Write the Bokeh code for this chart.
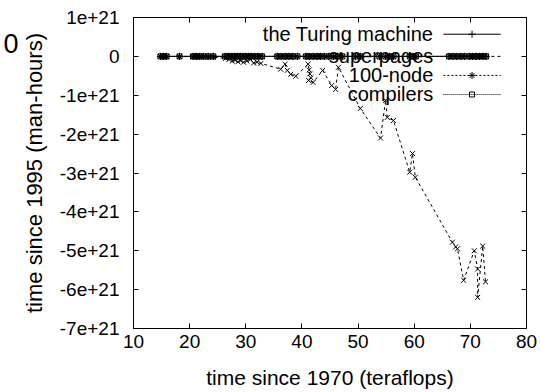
from bokeh.plotting import figure
from bokeh.models import Range1d, FixedTicker, LinearAxis, CustomJSTickFormatter
from bokeh.embed import file_html
from bokeh.resources import INLINE

# ---------------- data (y values in units of 1e21) ----------------
superpages_x = [14.8, 15.3, 15.9, 18.2, 20.6, 21.3, 22.0, 22.6, 23.3, 24.2,
                26.4, 27.0, 27.6, 28.1, 28.6, 29.1, 29.6, 30.2, 30.8, 31.4,
                32.0, 32.7, 36.2, 37.0, 37.4, 38.0, 38.9,
                41.1, 41.3, 41.4, 41.6, 41.2, 42.0, 43.7, 45.3, 46.0, 46.5,
                50.4, 54.0, 54.9, 55.2, 56.3, 59.2, 59.7, 60.2, 66.8, 67.4,
                67.7, 68.8, 70.7, 71.3, 71.3, 72.2, 72.7]
superpages_y = [-0.002, -0.003, -0.004, -0.005, -0.01, -0.01, -0.012, -0.015, -0.02, -0.02,
                -0.05, -0.08, -0.12, -0.10, -0.14, -0.11, -0.15, -0.12, -0.08, -0.17,
                -0.15, -0.18, -0.33, -0.20, -0.36, -0.46, -0.51,
                -0.20, -0.35, -0.45, -0.55, -0.62, -0.67, -0.36, -0.75, -0.85, -0.28,
                -1.34, -2.10, -1.13, -1.57, -1.65, -2.98, -2.50, -3.11, -4.78, -4.90,
                -4.95, -5.76, -5.00, -5.47, -6.20, -4.88, -5.80]

small_x = [14.8, 15.3, 15.9, 18.2, 20.6, 21.2, 21.8, 22.5, 23.3, 24.2,
           26.3, 26.9, 27.5, 28.0, 28.5, 29.0, 29.5, 30.0, 30.5, 31.0,
           31.6, 32.2, 32.9, 35.6, 36.3, 37.0, 37.7, 38.4, 39.2, 40.7,
           41.3, 42.0, 42.7, 43.3, 44.0, 44.8, 45.6, 46.4, 47.2, 49.5,
           50.4, 53.8, 54.9, 55.6, 56.3, 59.2, 59.8, 60.3, 66.2, 66.9,
           67.6, 68.3, 69.0, 69.8, 70.4, 71.0, 71.6, 72.2, 72.8]
turing_y = [0.001, 0.001, 0.0, 0.001, 0.0, 0.001, 0.0, 0.001, 0.0, 0.001,
            0.0, 0.001, 0.0, 0.001, 0.0, 0.001, 0.0, 0.001, 0.0, 0.001,
            0.0, 0.001, 0.0, 0.001, 0.0, 0.001, 0.0, 0.001, 0.0, 0.001,
            0.0, 0.001, 0.0, 0.001, 0.0, 0.001, 0.0, 0.001, 0.0, 0.001,
            0.0, 0.001, 0.0, 0.001, 0.0, 0.001, 0.0, 0.001, 0.0, 0.001,
            0.0, 0.001, 0.0, 0.001, 0.0, 0.001, 0.0, 0.001, 0.0]
node100_y = [-0.001, 0.0, -0.001, 0.0, -0.001, 0.0, -0.001, 0.0, -0.001, 0.0,
             -0.001, 0.0, -0.001, 0.0, -0.001, 0.0, -0.001, 0.0, -0.001, 0.0,
             -0.001, 0.0, -0.001, 0.0, -0.001, 0.0, -0.001, 0.0, -0.001, 0.0,
             -0.001, 0.0, -0.001, 0.0, -0.001, 0.0, -0.001, 0.0, -0.001, 0.0,
             -0.001, 0.0, -0.001, 0.0, -0.001, 0.0, -0.001, 0.0, -0.001, 0.0,
             -0.001, 0.0, -0.001, 0.0, -0.001, 0.0, -0.001, 0.0, -0.001]
compilers_y = [0.0, 0.0, 0.0, 0.0, 0.0, 0.0, 0.0, 0.0, 0.0, 0.0,
               0.0, 0.0, 0.0, 0.0, 0.0, 0.0, 0.0, 0.0, 0.0, 0.0,
               0.0, 0.0, 0.0, 0.0, 0.0, 0.0, 0.0, 0.0, 0.0, 0.0,
               0.0, 0.0, 0.0, 0.0, 0.0, 0.0, 0.0, 0.0, 0.0, 0.0,
               0.0, 0.0, 0.0, 0.0, 0.0, 0.0, 0.0, 0.0, 0.0, 0.0,
               0.0, 0.0, 0.0, 0.0, 0.0, 0.0, 0.0, 0.0, 0.0]

series_names = ["the Turing machine", "superpages", "100-node", "compilers"]
x_ticks = [10, 20, 30, 40, 50, 60, 70, 80]
y_ticks = [1, 0, -1, -2, -3, -4, -5, -6, -7]
x_label = "time since 1970 (teraflops)"
y_label = "time since 1995 (man-hours)"
stray_text = "0"
stray_pos = 0.334  # vertical position of the stray "0" (in y units)

FONT = "Liberation Sans"

p = figure(width=541, height=392, output_backend="svg", toolbar_location=None,
           x_range=Range1d(10, 80), y_range=Range1d(-7, 1),
           min_border_left=133, min_border_right=15, min_border_top=17,
           min_border_bottom=64, background_fill_color="white",
           border_fill_color="white")
p.xgrid.visible = False
p.ygrid.visible = False
p.outline_line_color = "black"
p.outline_line_width = 1

yfmt = CustomJSTickFormatter(code="return tick == 0 ? '0' : tick.toFixed(0) + 'e+21';")
blank = CustomJSTickFormatter(code="return '';")

for ax in p.xaxis:
    ax.ticker = FixedTicker(ticks=x_ticks)
    ax.axis_label = x_label
    ax.axis_label_text_font_size = "21px"
    ax.axis_label_standoff = 15
for ax in p.yaxis:
    ax.ticker = FixedTicker(ticks=y_ticks)
    ax.formatter = yfmt
    ax.axis_label = y_label
    ax.axis_label_text_font_size = "22px"
    ax.axis_label_standoff = 10

for ax in list(p.xaxis) + list(p.yaxis):
    ax.major_tick_in = 5
    ax.major_tick_out = 0
    ax.minor_tick_in = 0
    ax.minor_tick_out = 0
    ax.axis_line_color = "black"
    ax.major_tick_line_color = "black"
    ax.major_label_text_font = FONT
    ax.major_label_text_font_size = "19px"
    ax.major_label_text_color = "black"
    ax.axis_label_text_font = FONT
    ax.axis_label_text_font_style = "normal"
    ax.axis_label_text_color = "black"

p.xaxis.major_label_standoff = 6
p.yaxis.major_label_standoff = 14

top = LinearAxis(ticker=FixedTicker(ticks=x_ticks), formatter=blank)
right = LinearAxis(ticker=FixedTicker(ticks=y_ticks), formatter=blank)
for ax in (top, right):
    ax.major_tick_in = 5
    ax.major_tick_out = 0
    ax.minor_tick_in = 0
    ax.minor_tick_out = 0
    ax.axis_line_color = None
    ax.major_label_standoff = 0
    ax.major_label_text_font_size = "1px"
p.add_layout(top, "above")
p.add_layout(right, "right")

# stray "0" at the far left, drawn as an outer left axis with a single label
stray_fmt = CustomJSTickFormatter(args=dict(t=stray_text), code="return t;")
stray_axis = LinearAxis(ticker=FixedTicker(ticks=[stray_pos]), formatter=stray_fmt)
stray_axis.major_tick_in = 0
stray_axis.major_tick_out = 0
stray_axis.minor_tick_in = 0
stray_axis.minor_tick_out = 0
stray_axis.axis_line_color = None
stray_axis.major_label_standoff = 0
stray_axis.major_label_text_font = FONT
stray_axis.major_label_text_font_size = "27px"
stray_axis.major_label_text_color = "black"
p.add_layout(stray_axis, "left")

# ---------------- series ----------------
p.line(small_x, compilers_y, line_color="black", line_width=1, line_dash="1 1")
p.scatter(small_x, compilers_y, marker="square", size=5, fill_color=None,
          line_color="black", line_width=1)
p.line(small_x, node100_y, line_color="black", line_width=1, line_dash="2 2")
p.scatter(small_x, node100_y, marker="asterisk", size=7, line_color="black", line_width=1)
p.line(superpages_x, superpages_y, line_color="black", line_width=1, line_dash="3 3")
p.scatter(superpages_x, superpages_y, marker="x", size=7, line_color="black", line_width=1)
p.line(small_x, turing_y, line_color="black", line_width=1)
p.scatter(small_x, turing_y, marker="cross", size=7, line_color="black", line_width=1)

# ---------------- gnuplot-style key ----------------
key_text_x = 63.4
key_x0, key_x1, key_xm = 65.2, 75.4, 70.3
key_rows = [0.57, 0.0, -0.49, -0.98]
key_dash = ["solid", "3 3", "2 2", "1 1"]
key_marker = ["cross", "x", "asterisk", "square"]
key_size = [7, 7, 7, 5]
p.text(x=[key_text_x] * 4, y=key_rows, text=series_names, text_align="right",
       text_baseline="middle", text_font={"value": FONT}, text_font_size="20px",
       text_color="black")
for yy, dash, mk, sz in zip(key_rows, key_dash, key_marker, key_size):
    p.line([key_x0, key_x1], [yy, yy], line_color="black", line_width=1, line_dash=dash)
    p.scatter([key_xm], [yy], marker=mk, size=sz, line_color="black",
              fill_color=None, line_width=1)

open("out.html", "w").write(file_html(p, INLINE))
